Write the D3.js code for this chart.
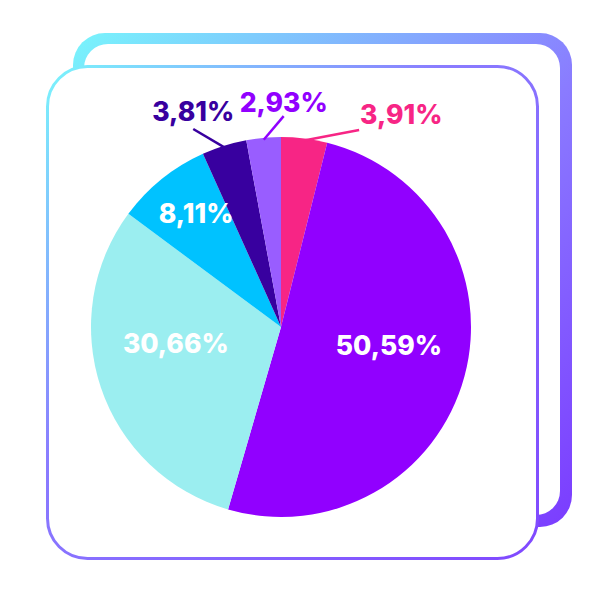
<!DOCTYPE html>
<html>
<head>
<meta charset="utf-8">
<script src="https://cdn.jsdelivr.net/npm/d3@7"></script>
<style>
  html, body { margin: 0; padding: 0; background: #fff; }
  svg { display: block; }
  .lbl { font-family: Inter, "Open Sans", sans-serif; font-weight: 800; font-size: 26.5px; }
</style>
</head>
<body>
<svg id="chart" width="600" height="600"></svg>
<script>
// slice data, clockwise from 12 o'clock
var labels = ["3,91%", "50,59%", "30,66%", "8,11%", "3,81%", "2,93%"];
var values = [3.91, 50.59, 30.66, 8.11, 3.81, 2.93];
var colors = ["#f72585", "#9100ff", "#9beef0", "#00c2ff", "#38009f", "#995dff"];
var labelColors = ["#f72585", "#fff", "#fff", "#fff", "#38009f", "#9100ff"];

var svg = d3.select("#chart");
var defs = svg.append("defs");

var g1 = defs.append("linearGradient").attr("id", "gradBack")
  .attr("x1", 0).attr("y1", 0).attr("x2", 1).attr("y2", 1);
g1.append("stop").attr("offset", "0").attr("stop-color", "#78f5fc");
g1.append("stop").attr("offset", "0.55").attr("stop-color", "#8a7bff");
g1.append("stop").attr("offset", "1").attr("stop-color", "#7b3cff");

var g2 = defs.append("linearGradient").attr("id", "gradFront")
  .attr("x1", 0).attr("y1", 0).attr("x2", 1).attr("y2", 1);
g2.append("stop").attr("offset", "0").attr("stop-color", "#7af5fc");
g2.append("stop").attr("offset", "0.4").attr("stop-color", "#8a7cff");
g2.append("stop").attr("offset", "1").attr("stop-color", "#8048ff");

// back card
svg.append("rect").attr("x", 73).attr("y", 33).attr("width", 499).attr("height", 494)
  .attr("rx", 32).attr("fill", "url(#gradBack)");
svg.append("rect").attr("x", 84).attr("y", 44).attr("width", 476).attr("height", 471)
  .attr("rx", 24).attr("fill", "#fff");

// front card
svg.append("rect").attr("x", 47.5).attr("y", 66.5).attr("width", 490).attr("height", 492)
  .attr("rx", 40).attr("fill", "#fff")
  .attr("stroke", "url(#gradFront)").attr("stroke-width", 3);

var cx = 281, cy = 327, r = 190;
var data = values.map(function(v, i) { return { label: labels[i], value: v, i: i }; });

var pie = d3.pie().sort(null).value(function(d) { return d.value; });
var arcs = pie(data);
var arc = d3.arc().innerRadius(0).outerRadius(r);

var g = svg.append("g").attr("transform", "translate(" + cx + "," + cy + ")");

g.selectAll("path.slice").data(arcs).enter().append("path")
  .attr("class", "slice")
  .attr("d", arc)
  .attr("fill", function(d) { return colors[d.data.i]; });

function polar(a, rad) { return [Math.sin(a) * rad, -Math.cos(a) * rad]; }

// inside labels: angle nudge (deg) and radius factor
var inLayout = {
  1: { da: -5.5, k: 0.576 },
  2: { da: 10, k: 0.56 },
  3: { da: 2, k: 0.745 }
};
var inside = arcs.filter(function(d) { return d.data.value > 5; });
g.selectAll("text.in").data(inside).enter().append("text")
  .attr("class", "lbl in")
  .attr("text-anchor", "middle")
  .attr("dy", "0.36em")
  .attr("transform", function(d) {
    var c = inLayout[d.data.i];
    var a = (d.startAngle + d.endAngle) / 2 + c.da * Math.PI / 180;
    var p = polar(a, r * c.k);
    return "translate(" + p + ")";
  })
  .attr("fill", function(d) { return labelColors[d.data.i]; })
  .text(function(d) { return d.data.label; });

// outside labels with leader lines
var callout = {
  0: { da: 14.6, k: 1.115, anchor: "start", tx: 1, ty: -6 },
  4: { da: -6.5, k: 1.14, anchor: "middle", tx: 0, ty: -8 },
  5: { da: 6, k: 1.11, anchor: "middle", tx: 0, ty: -4 }
};
var outside = arcs.filter(function(d) { return d.data.value <= 5; });
outside.forEach(function(d) {
  var c = callout[d.data.i];
  var a = (d.startAngle + d.endAngle) / 2;
  var p0 = polar(a, r - 2);
  var p1 = polar(a + c.da * Math.PI / 180, r * c.k);
  g.append("line")
    .attr("x1", p0[0]).attr("y1", p0[1]).attr("x2", p1[0]).attr("y2", p1[1])
    .attr("stroke", labelColors[d.data.i]).attr("stroke-width", 2.5);
  g.append("text").attr("class", "lbl")
    .attr("text-anchor", c.anchor)
    .attr("x", p1[0] + c.tx).attr("y", p1[1] + c.ty)
    .attr("fill", labelColors[d.data.i])
    .text(d.data.label);
});
</script>
</body>
</html>
